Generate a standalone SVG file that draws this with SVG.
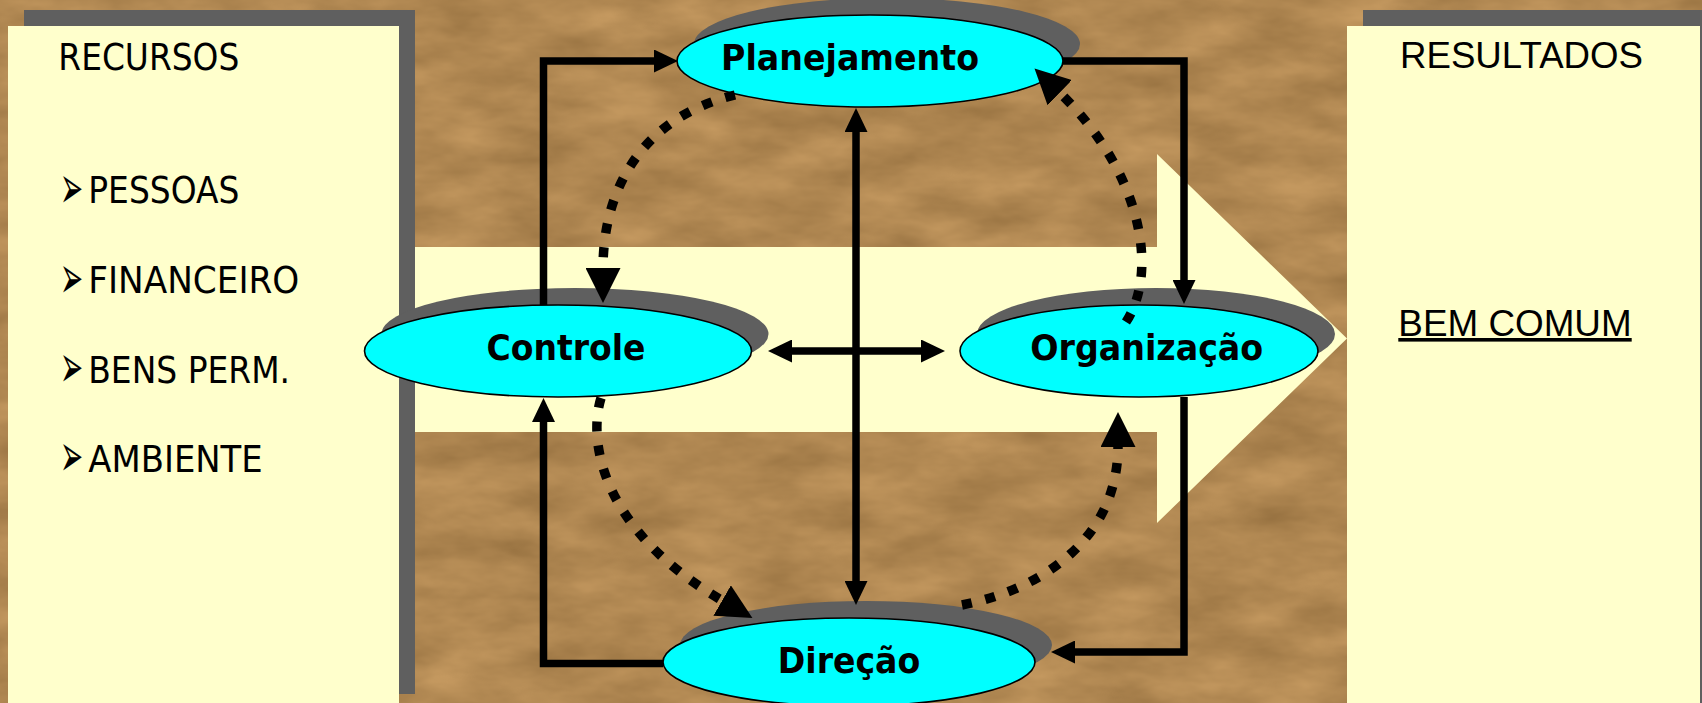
<svg xmlns="http://www.w3.org/2000/svg" width="1702" height="703" viewBox="0 0 1702 703">
  <defs>
    <filter id="parchment" filterUnits="userSpaceOnUse" x="0" y="0" width="1702" height="703" color-interpolation-filters="sRGB">
      <feTurbulence type="fractalNoise" baseFrequency="0.012 0.03" numOctaves="4" seed="7" result="n"/>
      <feColorMatrix in="n" type="matrix" values="0.22 0 0 0 0.58  0.19 0 0 0 0.435  0.15 0 0 0 0.245  0 0 0 0 1"/>
    </filter>
    <marker id="ah" markerUnits="userSpaceOnUse" viewBox="0 0 24 23" markerWidth="24" markerHeight="23" refX="3" refY="11.5" orient="auto-start-reverse">
      <path d="M0,0 L24,11.5 L0,23 z" fill="#000"/>
    </marker>
    <marker id="dh" markerUnits="userSpaceOnUse" viewBox="0 0 35 35" markerWidth="35" markerHeight="35" refX="1" refY="17.5" orient="auto">
      <path d="M0,0 L35,17.5 L0,35 z" fill="#000"/>
    </marker>
    <style>
      .panel { fill: #FFFFCC; }
      .shadow { fill: #5F5F5F; }
      .node { fill: #00FFFF; stroke: #000; stroke-width: 1.6; }
      .label { font-family: "DejaVu Sans", Verdana, sans-serif; font-weight: bold; font-size: 36px; fill: #000; text-anchor: middle; }
      .list { font-family: "DejaVu Sans", Verdana, sans-serif; font-size: 37.5px; fill: #000; }
      .bullet { font-family: "DejaVu Sans", sans-serif; font-size: 60px; fill: #000; }
      .res { font-family: "Liberation Sans", Arial, sans-serif; font-size: 36px; fill: #000; }
      .solid { fill: none; stroke: #000; stroke-width: 7.5; stroke-linejoin: miter; }
      .dotted { fill: none; stroke: #000; stroke-width: 9.5; stroke-dasharray: 10 14; }
    </style>
  </defs>

  <rect id="background" x="0" y="0" width="1702" height="703" fill="#B18653" filter="url(#parchment)"/>

  <g id="flow-arrow">
    <polygon class="panel" points="390,247 1157,247 1157,154 1347,338.5 1157,523 1157,432 390,432"/>
  </g>

  <g id="panel-recursos">
    <rect class="shadow" x="24" y="10" width="391" height="684"/>
    <rect class="panel" x="8" y="26" width="391" height="690"/>
    <text class="list" x="58.3" y="70" textLength="181" lengthAdjust="spacingAndGlyphs">RECURSOS</text>
    <text class="bullet" transform="translate(60,208) scale(0.46,1)">➢</text>
    <text class="list" x="88.3" y="203.3" textLength="151" lengthAdjust="spacingAndGlyphs">PESSOAS</text>
    <text class="bullet" transform="translate(60,298) scale(0.46,1)">➢</text>
    <text class="list" x="88.3" y="293.3" textLength="211" lengthAdjust="spacingAndGlyphs">FINANCEIRO</text>
    <text class="bullet" transform="translate(60,387.4) scale(0.46,1)">➢</text>
    <text class="list" x="88.3" y="382.7" textLength="201.7" lengthAdjust="spacingAndGlyphs">BENS PERM.</text>
    <text class="bullet" transform="translate(60,476.4) scale(0.46,1)">➢</text>
    <text class="list" x="88.3" y="471.7" textLength="174.4" lengthAdjust="spacingAndGlyphs">AMBIENTE</text>
  </g>

  <g id="panel-resultados">
    <rect class="shadow" x="1363" y="10" width="360" height="700"/>
    <rect class="panel" x="1347" y="26" width="353" height="690"/>
    <text class="res" x="1400" y="68.3" textLength="243" lengthAdjust="spacingAndGlyphs">RESULTADOS</text>
    <text class="res" x="1398.3" y="336" textLength="233.4" lengthAdjust="spacingAndGlyphs" text-decoration="underline">BEM COMUM</text>
  </g>

  <g id="node-planejamento">
    <ellipse class="shadow" cx="887" cy="44" rx="193" ry="46"/>
    <ellipse class="node" cx="870" cy="61" rx="193" ry="46"/>
    <text class="label" x="850" y="70" textLength="258" lengthAdjust="spacingAndGlyphs">Planejamento</text>
  </g>

  <g id="node-controle">
    <ellipse class="shadow" cx="575" cy="334" rx="193.5" ry="46"/>
    <ellipse class="node" cx="558" cy="351" rx="193.5" ry="46"/>
    <text class="label" x="566" y="360" textLength="159" lengthAdjust="spacingAndGlyphs">Controle</text>
  </g>

  <g id="node-organizacao">
    <ellipse class="shadow" cx="1156" cy="334" rx="179" ry="46"/>
    <ellipse class="node" cx="1139" cy="351" rx="179" ry="46"/>
    <text class="label" x="1146.7" y="360" textLength="233" lengthAdjust="spacingAndGlyphs">Organização</text>
  </g>

  <g id="node-direcao">
    <ellipse class="shadow" cx="866" cy="645" rx="186" ry="44"/>
    <ellipse class="node" cx="849" cy="662" rx="186" ry="44"/>
    <text class="label" x="849" y="673.3" textLength="142.5" lengthAdjust="spacingAndGlyphs">Direção</text>
  </g>

  <g id="connectors">
    <path class="solid" d="M543.5,305 V61 H657" marker-end="url(#ah)"/>
    <path class="solid" d="M1063,61 H1184 V283" marker-end="url(#ah)"/>
    <path class="solid" d="M1184,397 V652 H1072" marker-end="url(#ah)"/>
    <path class="solid" d="M663,663.5 H543.5 V419" marker-end="url(#ah)"/>
    <path class="solid" d="M856,129 V584" marker-start="url(#ah)" marker-end="url(#ah)"/>
    <path class="solid" d="M789,351 H924" marker-start="url(#ah)" marker-end="url(#ah)"/>
    <path class="dotted" d="M735,95 C650,115 603,180 603,269" marker-end="url(#dh)"/>
    <path class="dotted" d="M1126,322 C1160,270 1140,170 1059,92" marker-end="url(#dh)"/>
    <path class="dotted" d="M601,398 C588,440 600,530 723,601" marker-end="url(#dh)"/>
    <path class="dotted" d="M962,605 C1040,590 1118,540 1118,446" marker-end="url(#dh)"/>
  </g>
</svg>
